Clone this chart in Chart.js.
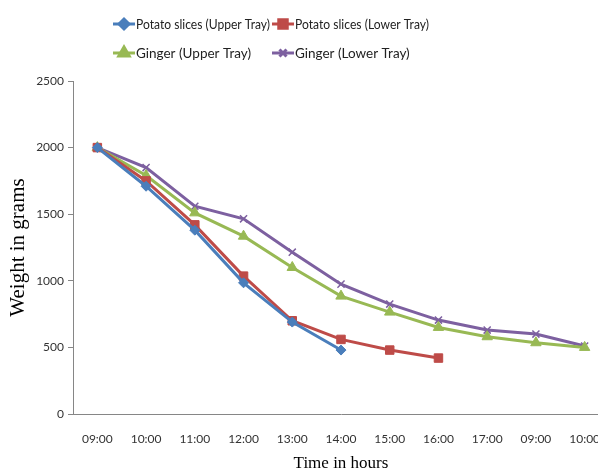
<!DOCTYPE html>
<html>
<head>
<meta charset="utf-8">
<script src="https://cdn.jsdelivr.net/npm/chart.js@4/dist/chart.umd.min.js"></script>
<style>
  html, body { margin: 0; padding: 0; background: #fff; overflow: hidden; }
  #wrap { width: 616px; height: 474px; }
</style>
</head>
<body>
<div id="wrap"><canvas id="graph" width="616" height="474"></canvas></div>
<script>
const times = ["09:00", "10:00", "11:00", "12:00", "13:00", "14:00", "15:00", "16:00", "17:00", "09:00", "10:00"];

const potatoUpper = [2000, 1710, 1380, 985, 690, 480];
const potatoLower = [2000, 1750, 1420, 1035, 700, 560, 480, 420];
const gingerUpper = [2000, 1790, 1510, 1335, 1100, 885, 765, 650, 580, 535, 500];
const gingerLower = [2000, 1850, 1560, 1465, 1215, 975, 825, 705, 630, 600, 510];

const yTicks = [0, 500, 1000, 1500, 2000, 2500];

const series = [
    { label: "Potato slices (Upper Tray)", data: potatoUpper, color: "#4a7ebb", style: "rectRot", r: 5 },
    { label: "Potato slices (Lower Tray)", data: potatoLower, color: "#be4b48", style: "rect", r: 6 },
    { label: "Ginger (Upper Tray)", data: gingerUpper, color: "#98b954", style: "triangle", r: 6 },
    { label: "Ginger (Lower Tray)", data: gingerLower, color: "#7d60a0", style: "crossRot", r: 5 }
];

// legend drawn as a 2x2 grid like the original
const gridLegend = {
    id: "gridLegend",
    afterDraw(chart) {
        const ctx = chart.ctx;
        const cols = [113, 272];
        const rows = [24, 53];
        ctx.save();
        ctx.font = "13.5px Lato";
        ctx.textBaseline = "middle";
        chart.data.datasets.forEach((ds, i) => {
            const x = cols[i % 2], y = rows[Math.floor(i / 2)];
            ctx.strokeStyle = ds.borderColor;
            ctx.lineWidth = 3;
            ctx.beginPath();
            ctx.moveTo(x, y);
            ctx.lineTo(x + 22, y);
            ctx.stroke();
            ctx.fillStyle = ds.backgroundColor;
            Chart.helpers.drawPoint(ctx, {
                pointStyle: ds.pointStyle,
                radius: ds.pointRadius,
                borderWidth: ds.pointStyle === "crossRot" ? 1.5 : 1,
                rotation: 0
            }, x + 11, y);
            ctx.fillStyle = "#222";
            ctx.fillText(ds.label, x + 23, y + 1, 134);
        });
        ctx.restore();
    }
};

new Chart(document.querySelector("#graph").getContext("2d"), {
    type: "line",
    data: {
        labels: times,
        datasets: series.map(s => ({
            label: s.label,
            data: s.data,
            borderColor: s.color,
            backgroundColor: s.color,
            pointBorderColor: s.color,
            pointBackgroundColor: s.color,
            pointStyle: s.style,
            pointRadius: s.r,
            pointBorderWidth: s.style === "crossRot" ? 1.5 : 1,
            borderWidth: 3,
            tension: 0
        }))
    },
    options: {
        responsive: false,
        animation: false,
        devicePixelRatio: 1,
        layout: { padding: { top: 81, right: 0, left: 0, bottom: 0 } },
        plugins: {
            legend: { display: false },
            tooltip: { enabled: false }
        },
        scales: {
            x: {
                offset: true,
                grid: { display: false },
                border: { display: true, color: "#868686", width: 1 },
                ticks: { color: "#333", font: { family: "Lato", size: 12 }, padding: 10, maxRotation: 0, autoSkip: false },
                title: { display: true, text: "Time in hours", color: "#000", font: { family: "Liberation Serif", size: 17 }, padding: 0 },
                afterFit(scale) { scale.height = 60; }
            },
            y: {
                min: 0,
                max: 2500,
                afterBuildTicks(scale) { scale.ticks = yTicks.map(v => ({ value: v })); },
                grid: { display: true, drawOnChartArea: false, drawTicks: true, tickLength: 5, color: "#868686" },
                border: { display: true, color: "#868686", width: 1 },
                ticks: { color: "#333", font: { family: "Lato", size: 12 }, padding: 4, callback: v => String(v) },
                title: { display: true, text: "Weight in grams", color: "#000", font: { family: "Liberation Serif", size: 21 }, padding: 6 },
                afterFit(scale) { scale.width = 73; }
            }
        }
    },
    plugins: [gridLegend]
});
</script>
</body>
</html>
